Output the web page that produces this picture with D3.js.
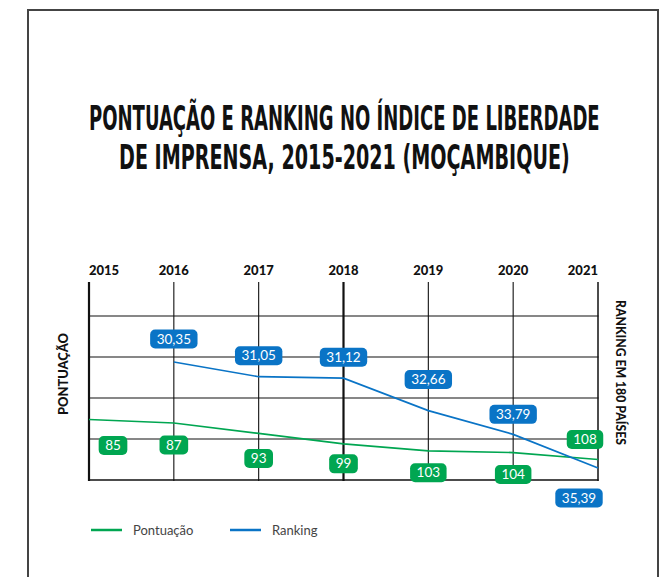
<!DOCTYPE html>
<html>
<head>
<meta charset="utf-8">
<script src="https://cdn.jsdelivr.net/npm/d3@7"></script>
<style>
  body { margin: 0; background: #fff; }
  svg { display: block; }
</style>
</head>
<body>
<div id="chart"></div>
<script>
// data
const years = ["2015", "2016", "2017", "2018", "2019", "2020", "2021"];
const ranking = [85, 87, 93, 99, 103, 104, 108];          // green line ("Pontuação" in legend)
const scoreYears = ["2016", "2017", "2018", "2019", "2020", "2021"];
const score = [30.35, 31.05, 31.12, 32.66, 33.79, 35.39]; // blue line ("Ranking" in legend)
const scoreLabels = ["30,35", "31,05", "31,12", "32,66", "33,79", "35,39"];

// label nudges (layout only)
const rankLabelDx = [24, 0, 0, 0, 0, 0, -13];
const rankLabelDy = [26, 22, 25, 20, 22, 22, -20];
const scoreLabelDx = [0, 0, 0, 0, 0, -19];
const scoreLabelDy = [-23, -21, -21, -31, -20, 30];

const green = "#00a651", blue = "#0a74c6";

const svg = d3.select("#chart").append("svg")
    .attr("width", 665)
    .attr("height", 577);

// frame
svg.append("path")
    .attr("d", "M28,580V10H658V580")
    .attr("fill", "none")
    .attr("stroke", "#444")
    .attr("stroke-width", 2);

// title, squeezed horizontally to look condensed
function titleLine(txt, left, base, width) {
    const g = svg.append("g");
    const t = g.append("text")
        .attr("font-family", "'DejaVu Sans Condensed', 'DejaVu Sans', sans-serif")
        .attr("font-weight", "bold")
        .attr("font-size", 34)
        .attr("fill", "#111")
        .text(txt);
    const k = width / t.node().getComputedTextLength();
    g.attr("transform", `translate(${left},${base}) scale(${k},1)`);
}
titleLine("PONTUAÇÃO E RANKING NO ÍNDICE DE LIBERDADE", 89, 129.5, 511);
titleLine("DE IMPRENSA, 2015-2021 (MOÇAMBIQUE)", 119, 168.5, 451);

// scales
const x = d3.scalePoint().domain(years).range([89, 598]);
const grid = d3.scaleLinear().domain([0, 4]).range([480, 316]);
const yRank = d3.scaleLinear().domain([85, 108]).range([419.5, 459.5]);
const yScore = d3.scaleLinear().domain([30.35, 35.39]).range([362, 468]);

// horizontal grid
svg.append("g").selectAll("line")
    .data(d3.range(5))
    .enter().append("line")
        .attr("x1", 88).attr("x2", 598.5)
        .attr("y1", d => grid(d)).attr("y2", d => grid(d))
        .attr("stroke", "#111")
        .attr("stroke-width", d => d === 0 ? 1.6 : 1.2);

// vertical year lines
svg.append("g").selectAll("line")
    .data(years)
    .enter().append("line")
        .attr("x1", d => x(d)).attr("x2", d => x(d))
        .attr("y1", 282).attr("y2", 481)
        .attr("stroke", "#111")
        .attr("stroke-width", d => (d === "2015" || d === "2018") ? 2.2 : (d === "2021" ? 1.5 : 1.1));

// year labels
svg.append("g").selectAll("text")
    .data(years)
    .enter().append("text")
        .attr("x", d => x(d))
        .attr("y", 275)
        .attr("text-anchor", (d, i) => i === 0 ? "start" : (i === years.length - 1 ? "end" : "middle"))
        .attr("font-family", "Lato, sans-serif")
        .attr("font-weight", 900)
        .attr("font-size", 13)
        .attr("fill", "#111")
        .text(d => d);

// axis titles
svg.append("text")
    .attr("transform", "translate(68,374) rotate(-90)")
    .attr("text-anchor", "middle")
    .attr("font-family", "Lato, sans-serif")
    .attr("font-weight", 900)
    .attr("font-size", 13)
    .attr("textLength", 82).attr("lengthAdjust", "spacingAndGlyphs")
    .attr("fill", "#111")
    .text("PONTUAÇÃO");
svg.append("text")
    .attr("transform", "translate(616,372.5) rotate(90)")
    .attr("text-anchor", "middle")
    .attr("font-family", "Lato, sans-serif")
    .attr("font-weight", 900)
    .attr("font-size", 13)
    .attr("textLength", 145).attr("lengthAdjust", "spacingAndGlyphs")
    .attr("fill", "#111")
    .text("RANKING EM 180 PAÍSES");

// lines
const rankLine = d3.line().x((d, i) => x(years[i])).y(d => yRank(d));
svg.append("path")
    .datum(ranking)
    .attr("d", rankLine)
    .attr("fill", "none")
    .attr("stroke", green)
    .attr("stroke-width", 1.7);

const scoreLine = d3.line().x((d, i) => x(scoreYears[i])).y(d => yScore(d));
svg.append("path")
    .datum(score)
    .attr("d", scoreLine)
    .attr("fill", "none")
    .attr("stroke", blue)
    .attr("stroke-width", 1.7);

// value labels
function badge(g, cx, cy, txt, color) {
    const t = g.append("text")
        .attr("x", cx).attr("y", cy + 4.6)
        .attr("text-anchor", "middle")
        .attr("font-family", "Lato, sans-serif")
        .attr("font-size", 13.5)
        .attr("fill", "#fff")
        .text(txt);
    const w = t.node().getComputedTextLength() + 13;
    g.insert("rect", "text")
        .attr("x", cx - w / 2).attr("y", cy - 9.5)
        .attr("width", w).attr("height", 19)
        .attr("rx", 5)
        .attr("fill", color);
}

ranking.forEach((d, i) => {
    const g = svg.append("g");
    badge(g, x(years[i]) + rankLabelDx[i], yRank(d) + rankLabelDy[i], String(d), green);
});
score.forEach((d, i) => {
    const g = svg.append("g");
    badge(g, x(scoreYears[i]) + scoreLabelDx[i], yScore(d) + scoreLabelDy[i], scoreLabels[i], blue);
});

// legend
const legend = [["Pontuação", green, 91], ["Ranking", blue, 230]];
legend.forEach(l => {
    svg.append("line")
        .attr("x1", l[2]).attr("x2", l[2] + 31)
        .attr("y1", 530).attr("y2", 530)
        .attr("stroke", l[1])
        .attr("stroke-width", 2.5);
    svg.append("text")
        .attr("x", l[2] + 42).attr("y", 535)
        .attr("font-family", "Lato, sans-serif")
        .attr("font-size", 13)
        .attr("fill", "#444")
        .text(l[0]);
});
</script>
</body>
</html>
